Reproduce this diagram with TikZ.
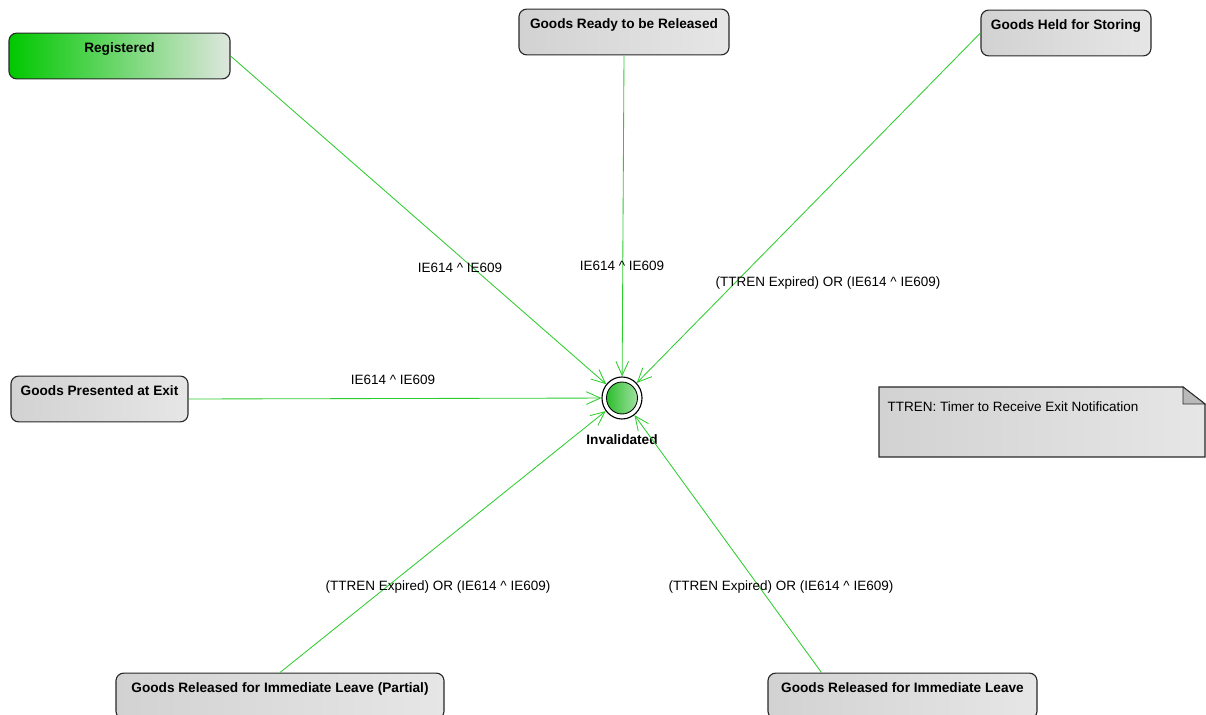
\documentclass[tikz,border=0pt]{standalone}
\usepackage{fontspec}
\setmainfont{Liberation Sans}
\usepackage{tikz}
\usetikzlibrary{arrows.meta,shapes.geometric,calc}
\usepackage{xcolor}
\definecolor{edgegreen}{RGB}{45,205,45}
\definecolor{boxleft}{RGB}{210,210,210}
\definecolor{boxright}{RGB}{230,230,230}
\definecolor{regleft}{RGB}{0,200,0}
\definecolor{regright}{RGB}{222,230,222}
\definecolor{borderdark}{RGB}{40,40,40}
\definecolor{innerdark}{RGB}{45,190,45}
\definecolor{innerlight}{RGB}{160,225,160}
\definecolor{foldgray}{RGB}{185,185,185}

\begin{document}
\begin{tikzpicture}[x=0.025cm,y=-0.025cm,>={Straight Barb[length=10pt,width=9pt]},
  state/.style={draw=borderdark,line width=0.8pt,rounded corners=5.5pt,left color=boxleft,right color=boxright,
    inner ysep=0pt,text height=14pt,text depth=18.6pt,font=\bfseries\fontsize{9.7}{11}\selectfont},
  trans/.style={->,draw=edgegreen,line width=0.6pt},
  lbl/.style={font=\fontsize{9.6}{11}\selectfont,inner sep=1pt}]
\useasboundingbox (0,0) rectangle (1206,715);
\node[state,left color=regleft,right color=regright,minimum width=221*0.025cm] (reg) at (119.5,56) {Registered};
\node[state,minimum width=210*0.025cm] (ready) at (624,32) {Goods Ready to be Released};
\node[state,minimum width=170*0.025cm] (held) at (1066,33) {Goods Held for Storing};
\node[state,minimum width=177*0.025cm] (pres) at (99.5,399) {Goods Presented at Exit};
\node[state,minimum width=328*0.025cm] (part) at (280,696) {Goods Released for Immediate Leave (Partial)};
\node[state,minimum width=269*0.025cm] (imm) at (902.5,696) {Goods Released for Immediate Leave};
\node[ellipse,draw=black,line width=0.8pt,fill=white,minimum width=1cm,minimum height=1.05cm] (inv) at (622,398) {};
\draw[line width=0.6pt,left color=innerdark,right color=innerlight] (inv.center) ellipse (15.5 and 16);
\node[font=\bfseries\fontsize{9.7}{11}\selectfont] (invtxt) at (622,440) {Invalidated};
\draw[trans] (reg.east) -- (inv);
\draw[trans] (ready.south) -- (inv);
\draw[trans] (held.west) -- (inv);
\draw[trans] (pres.east) -- (inv);
\draw[trans] (part.north) -- (inv);
\draw[trans] ($(imm.north west)!0.2!(imm.north east)$) -- (inv);
\node[lbl] (l1) at (460,268) {IE614 \textasciicircum{} IE609};
\node[lbl] (l2) at (622,266) {IE614 \textasciicircum{} IE609};
\node[lbl] (l3) at (828,283) {(TTREN Expired) OR (IE614 \textasciicircum{} IE609)};
\node[lbl] (l4) at (393,380) {IE614 \textasciicircum{} IE609};
\node[lbl] (l5) at (438,587) {(TTREN Expired) OR (IE614 \textasciicircum{} IE609)};
\node[lbl] (l6) at (781,587) {(TTREN Expired) OR (IE614 \textasciicircum{} IE609)};
\draw[draw=borderdark,line width=0.8pt,left color=boxleft,right color=boxright] (879,387) -- (1183,387) -- (1205,404) -- (1205,457) -- (879,457) -- cycle;
\draw[draw=borderdark,line width=0.6pt,fill=foldgray] (1183,387) -- (1183,404) -- (1205,404) -- cycle;
\node[lbl,anchor=base west] (ttren) at (886,412) {TTREN: Timer to Receive Exit Notification};
\end{tikzpicture}
\end{document}
